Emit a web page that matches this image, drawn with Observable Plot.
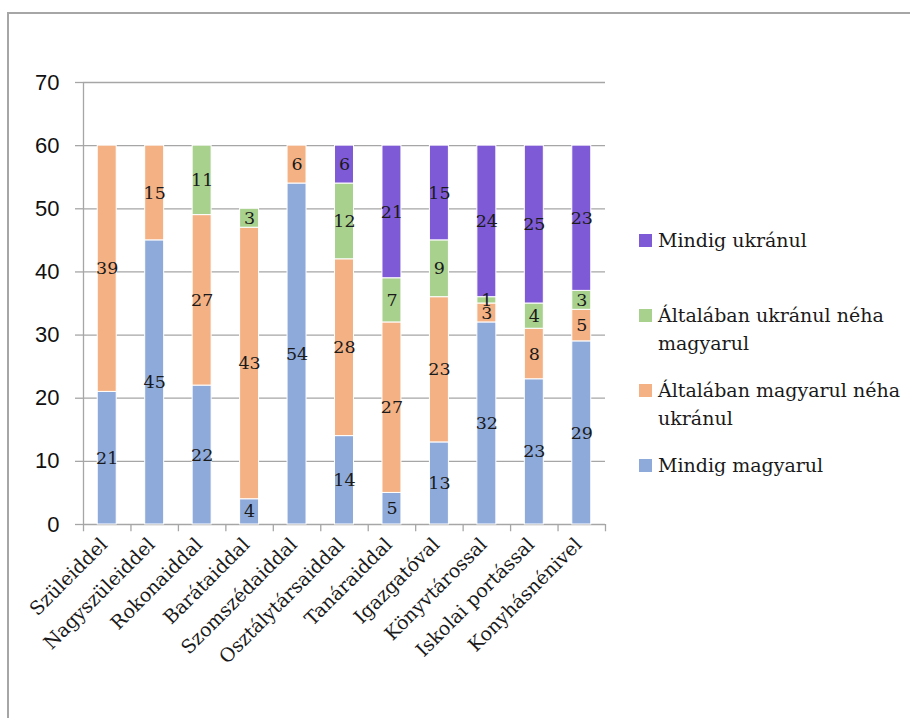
<!DOCTYPE html>
<html><head><meta charset="utf-8">
<script src="https://cdn.jsdelivr.net/npm/d3@7"></script>
<script src="https://cdn.jsdelivr.net/npm/@observablehq/plot@0.6"></script>
<style>
body{margin:0;background:#fff;}
#wrap{position:relative;width:910px;height:718px;overflow:hidden;background:#fff;}
#frame{position:absolute;left:7px;top:12px;width:1000px;height:1000px;border-left:2px solid #a6a6a6;border-top:2px solid #a6a6a6;pointer-events:none;}
#chart{position:absolute;left:0;top:0;}
#legend{position:absolute;left:639px;top:226px;font-family:"DejaVu Serif",serif;font-size:19px;color:#1a1a1a;}
.item{position:relative;height:75px;width:265px;}
.sw{position:absolute;left:0;top:8px;width:13px;height:13px;}
.lab{position:absolute;left:19px;top:0;line-height:28px;width:250px;}
</style>
</head><body>
<div id="wrap"><div id="chart"></div><div id="frame"></div><div id="legend"></div></div>
<script>
const categories = ["Szüleiddel","Nagyszüleiddel","Rokonaiddal","Barátaiddal","Szomszédaiddal","Osztálytársaiddal","Tanáraiddal","Igazgatóval","Könyvtárossal","Iskolai portással","Konyhásnénivel"];
const series = ["Mindig magyarul","Általában magyarul néha ukránul","Általában ukránul néha magyarul","Mindig ukránul"];
const colors = ["#8eaadb","#f4b183","#a9d18e","#7f5ad6"];
const mindigMagyarul = [21,45,22,4,54,14,5,13,32,23,29];
const altalabanMagyarul = [39,15,27,43,6,28,27,23,3,8,5];
const altalabanUkranul = [0,0,11,3,0,12,7,9,1,4,3];
const mindigUkranul = [0,0,0,0,0,6,21,15,24,25,23];
const yTicks = [0,10,20,30,40,50,60,70];

const values = [mindigMagyarul, altalabanMagyarul, altalabanUkranul, mindigUkranul];
const rows = [];
series.forEach((s, si) => categories.forEach((c, ci) => rows.push({cat: c, series: s, value: values[si][ci]})));

const mL = 83, mR = 305, W = 910;
const step = (W - mL - mR) / categories.length;

const chart = Plot.plot({
  width: W, height: 718,
  marginLeft: mL, marginRight: mR, marginTop: 82, marginBottom: 194,
  x: {domain: categories, paddingInner: 0.6, paddingOuter: 0.3, round: false, label: null},
  y: {domain: [0, 70], label: null},
  color: {domain: series, range: colors},
  style: {fontFamily: "DejaVu Serif", color: "#1a1a1a", background: "white", overflow: "visible"},
  marks: [
    Plot.gridY(yTicks, {stroke: "#a6a6a6", strokeOpacity: 1, strokeWidth: 1.3}),
    Plot.barY(rows, {x: "cat", y: "value", fill: "series", order: series, stroke: "white", strokeWidth: 1}),
    Plot.text(rows.filter(d => d.value > 0), Plot.stackY({x: "cat", y: "value", z: "series", order: series, text: d => String(d.value), fontSize: 17.5, fill: "#1a1a1a"})),
    Plot.ruleX(categories, {x: d => d, y1: 0, y2: -1.15, dx: -step / 2, stroke: "#a6a6a6", strokeWidth: 1.3}),
    Plot.ruleX(categories.slice(-1), {x: d => d, y1: 0, y2: -1.15, dx: step / 2, stroke: "#a6a6a6", strokeWidth: 1.3}),
    Plot.ruleX(categories.slice(0, 1), {x: d => d, y1: 0, y2: 70, dx: -step / 2, stroke: "#a6a6a6", strokeWidth: 1.3}),
    Plot.axisY({ticks: yTicks, tickSize: 8, tickPadding: 16, fontFamily: "Liberation Sans", fontSize: 22, stroke: "#a6a6a6", strokeWidth: 1.3, fill: "#111", tickFormat: d => String(d), label: null}),
    Plot.axisX({tickRotate: -45, tickSize: 0, tickPadding: 17, dx: -3, fontSize: 19, fontFamily: "DejaVu Serif", fill: "#1a1a1a", label: null})
  ]
});
document.getElementById("chart").appendChild(chart);

const legend = document.getElementById("legend");
series.slice().reverse().forEach((s) => {
  const i = series.indexOf(s);
  const item = document.createElement("div");
  item.className = "item";
  item.innerHTML = `<div class="sw" style="background:${colors[i]}"></div><div class="lab"></div>`;
  item.querySelector(".lab").textContent = s;
  legend.appendChild(item);
});
</script>
</body></html>
